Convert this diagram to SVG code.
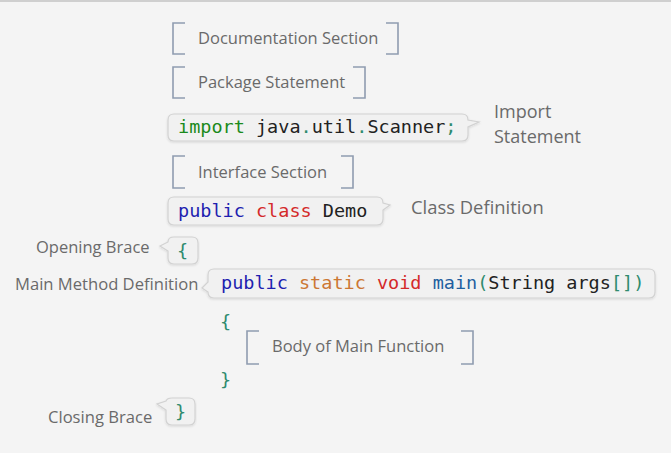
<svg xmlns="http://www.w3.org/2000/svg" width="671" height="453" viewBox="0 0 671 453">
<defs>
<style>
.lbl{font-family:"Open Sans","Liberation Sans",sans-serif;fill:#6a6a6a}
.sec{font-size:16.5px}
.code{font-family:"DejaVu Sans Mono","Liberation Mono",monospace;font-size:18.5px;fill:#222}
.brk{fill:none;stroke:#8f9cb0;stroke-width:1.6}
.box{fill:#f1f1f1;stroke:#d2d2d2;stroke-width:1.2}
.kw-g{fill:#1b8a1b}.kw-b{fill:#1f1fb0}.kw-r{fill:#d42a2a}.kw-o{fill:#cc7733}.kw-m{fill:#1f5f9f}.tl{fill:#2e8b6e}
</style>
<filter id="sh" x="-5%" y="-20%" width="110%" height="150%"><feDropShadow dx="0" dy="1" stdDeviation="1" flood-color="#000" flood-opacity="0.12"/></filter>
</defs>
<rect x="0" y="0" width="671" height="453" fill="#f4f4f4"/>
<rect x="0" y="0" width="671" height="2" fill="#cfcfcf"/>

<g id="doc">
<path class="brk" d="M185,23 H173 V54 H185 M386,23 H398 V54 H386"/>
<text class="lbl sec" x="198" y="44">Documentation Section</text>
</g>
<g id="pkg">
<path class="brk" d="M185,67 H173 V98 H185 M353,67 H365 V98 H353"/>
<text class="lbl sec" x="198" y="88">Package Statement</text>
</g>
<g id="import">
<path class="box" filter="url(#sh)" d="M174,114 H462 Q468,114 468,120 L479,122 L468,127 V135 Q468,141 462,141 H174 Q168,141 168,135 V120 Q168,114 174,114 Z"/>
<text class="code" x="178" y="133"><tspan class="kw-g">import</tspan> java<tspan class="tl">.</tspan>util<tspan class="tl">.</tspan>Scanner<tspan class="tl">;</tspan></text>
<text class="lbl" font-size="18" x="494" y="118">Import</text>
<text class="lbl" font-size="18" x="494" y="143">Statement</text>
</g>
<g id="iface">
<path class="brk" d="M185,156 H173 V188 H185 M341,156 H353 V188 H341"/>
<text class="lbl sec" x="198" y="178">Interface Section</text>
</g>
<g id="class">
<path class="box" filter="url(#sh)" d="M174,197 H377 Q383,197 383,203 L390,205 L383,210 V219 Q383,225 377,225 H174 Q168,225 168,219 V203 Q168,197 174,197 Z"/>
<text class="code" x="178" y="217"><tspan class="kw-b">public</tspan> <tspan class="kw-r">class</tspan> Demo</text>
<text class="lbl" font-size="18.4" x="411" y="214">Class Definition</text>
</g>
<g id="open">
<path class="box" filter="url(#sh)" d="M174,237 H192 Q198,237 198,243 V258 Q198,264 192,264 H174 Q168,264 168,258 V251 L160,246 L168,242 Q168,237 174,237 Z"/>
<text class="code tl" x="177" y="257">{</text>
<text class="lbl" font-size="16.5" x="36" y="253">Opening Brace</text>
</g>
<g id="main">
<path class="box" filter="url(#sh)" d="M214,269 H649 Q655,269 655,275 V292 Q655,298 649,298 H214 Q208,298 208,292 V292 L202,288 L208,282 V275 Q208,269 214,269 Z"/>
<text class="code" font-size="18.75" x="221" y="289"><tspan class="kw-b">public</tspan> <tspan class="kw-o">static</tspan> <tspan class="kw-r">void</tspan> <tspan class="kw-m">main</tspan><tspan class="tl">(</tspan>String args<tspan class="tl">[])</tspan></text>
<text class="lbl" font-size="16.6" x="15" y="290">Main Method Definition</text>
</g>
<g id="body">
<text class="code tl" x="220" y="328">{</text>
<path class="brk" d="M259,331 H247 V364 H259 M461,331 H473 V364 H461"/>
<text class="lbl sec" x="272" y="352">Body of Main Function</text>
<text class="code tl" x="220" y="386">}</text>
</g>
<g id="close">
<path class="box" filter="url(#sh)" d="M172,398 H189 Q195,398 195,404 V419 Q195,425 189,425 H172 Q166,425 166,419 V410 L157,404 L166,401 Q167,398 172,398 Z"/>
<text class="code tl" x="175" y="418">}</text>
<text class="lbl" font-size="16.6" x="48" y="423">Closing Brace</text>
</g>
<g id="connectors"></g>
</svg>
